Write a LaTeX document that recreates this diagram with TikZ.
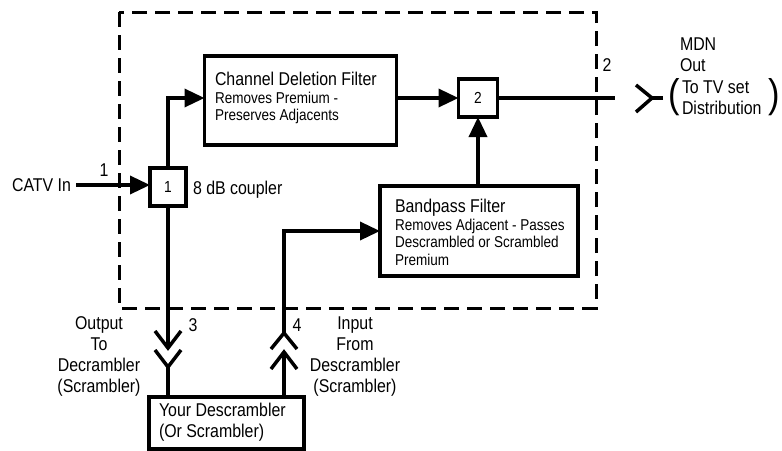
\documentclass[tikz,border=0pt]{standalone}
\usepackage{fontspec}
\setmainfont[FakeStretch=0.86]{Liberation Sans}
\usetikzlibrary{arrows.meta,positioning}
\tikzset{
  blockbox/.style={draw,line width=3.5pt,align=left,inner sep=0pt,outer sep=0pt},
  portbox/.style={draw,line width=3.5pt,inner sep=0pt,outer sep=0pt,font=\fontsize{16}{18}\selectfont},
  sig/.style={line width=3.5pt},
  sigarrow/.style={line width=3.5pt,-{Triangle[length=20pt,width=18pt]}},
  lbl/.style={inner sep=0pt,outer sep=0pt,font=\fontsize{18.5}{21}\selectfont,align=center},
  sublbl/.style={font=\fontsize{15.7}{17.5}\selectfont},
}
\begin{document}
\begin{tikzpicture}[x=1pt,y=-1pt]
\useasboundingbox (0,0) rectangle (782,450);
\draw[line width=3pt,dash pattern=on 15pt off 8pt] (119,12) rectangle (596,308);
\node[blockbox,minimum width=192pt,minimum height=89pt] (chan) at (300.5,100.5) {};
\node[blockbox,minimum width=198pt,minimum height=90pt] (band) at (479,231) {};
\node[blockbox,minimum width=155pt,minimum height=52pt] (descr) at (226.5,423) {};
\node[portbox,minimum width=36pt,minimum height=38pt] (c1) at (168,187) {1};
\node[portbox,minimum width=39pt,minimum height=38pt] (c2) at (478,98) {2};
\node[lbl,anchor=west,align=left] at (215,79) {Channel Deletion Filter};
\node[lbl,anchor=west,align=left,sublbl] at (215,108) {Removes Premium -\\Preserves Adjacents};
\node[lbl,anchor=west,align=left] at (395,208) {Bandpass Filter};
\node[lbl,anchor=west,align=left,sublbl] at (395,242) {Removes Adjacent - Passes\\Descrambled or Scrambled\\Premium};
\node[lbl,anchor=west,align=left] at (159,422) {Your Descrambler\\(Or Scrambler)};
\node[lbl,anchor=east] (catv) at (71,185) {CATV In};
\node[lbl,anchor=west] at (193,190) {8 dB coupler};
\node[lbl] at (104,170) {1};
\node[lbl] at (607,65) {2};
\node[lbl] at (193,325) {3};
\node[lbl] at (297,325) {4};
\node[lbl] at (99,356) {Output\\To\\Decrambler\\(Scrambler)};
\node[lbl] at (355,357) {Input\\From\\Descrambler\\(Scrambler)};
\node[lbl,anchor=west,align=left] at (680,55) {MDN\\Out};
\node[lbl,anchor=west,align=left] at (682,98) {To TV set\\Distribution};
\node[lbl,font=\fontsize{40}{40}\selectfont] at (674,97) {(};
\node[lbl,font=\fontsize{40}{40}\selectfont] at (774,97) {)};
\coordinate (catvin) at (76,185);
\coordinate (outend) at (615,98);
\coordinate (outy) at (663,98);
\coordinate (outv) at (652,98);
\coordinate (tip3) at (168,348);
\coordinate (fork3) at (168,367);
\coordinate (tip4) at (284,333);
\coordinate (fork4) at (284,352);
\draw[sigarrow] (catvin) -- (catvin -| c1.west);
\draw[sigarrow] (c1.north) |- (c2.west -| chan.west);
\draw[sigarrow] (c2.west -| chan.east) -- (c2.west);
\draw[sigarrow] (band.north -| c2.south) -- (c2.south);
\draw[sig] (c2.east) -- (outend);
\draw[sig] (c1.south) -- (tip3);
\draw[sig] ([xshift=-13pt,yshift=17pt]tip3) -- (tip3) -- ([xshift=13pt,yshift=17pt]tip3);
\draw[sig] ([xshift=-13pt,yshift=17pt]fork3) -- (fork3) -- ([xshift=13pt,yshift=17pt]fork3);
\draw[sig] (fork3) -- (fork3 |- descr.north);
\draw[sig] (fork4 |- descr.north) -- (fork4);
\draw[sig] ([xshift=-13pt,yshift=-17pt]fork4) -- (fork4) -- ([xshift=13pt,yshift=-17pt]fork4);
\draw[sig] ([xshift=-13pt,yshift=-16pt]tip4) -- (tip4) -- ([xshift=13pt,yshift=-16pt]tip4);
\draw[sigarrow] (tip4) |- (band.west);
\draw[sig] (outy) -- (outv);
\draw[sig] ([xshift=-16pt,yshift=13pt]outv) -- (outv) -- ([xshift=-16pt,yshift=-14pt]outv);
\end{tikzpicture}
\end{document}
